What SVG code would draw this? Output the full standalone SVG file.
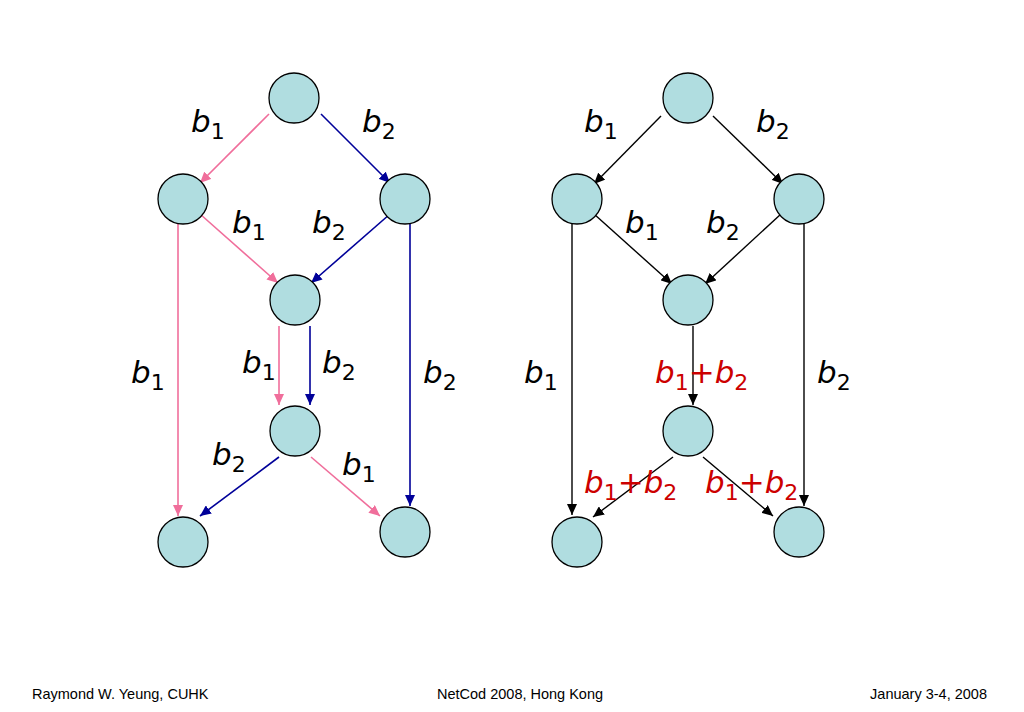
<svg xmlns="http://www.w3.org/2000/svg" width="1024" height="712" viewBox="0 0 1024 712">
<style>
.node{fill:#B0DDE0;stroke:#000;stroke-width:1.3}
.pink{stroke:#F06E9B;stroke-width:1.6;fill:none;marker-end:url(#ap)}
.blue{stroke:#000099;stroke-width:1.6;fill:none;marker-end:url(#ab)}
.blk{stroke:#000;stroke-width:1.4;fill:none;marker-end:url(#ak)}
.lbl{font-family:"DejaVu Sans",Verdana,sans-serif;font-size:31px;fill:#000}
.red{fill:#CC0000}
.i{font-style:italic}
.s{font-size:22px}
.foot{font-family:"Liberation Sans",Arial,sans-serif;font-size:14.5px;fill:#000}
</style>
<defs>
<marker id="ap" markerUnits="userSpaceOnUse" markerWidth="12" markerHeight="10" refX="11" refY="5" orient="auto"><path d="M0,0 L11,5 L0,10 z" fill="#F06E9B"/></marker>
<marker id="ab" markerUnits="userSpaceOnUse" markerWidth="12" markerHeight="10" refX="11" refY="5" orient="auto"><path d="M0,0 L11,5 L0,10 z" fill="#000099"/></marker>
<marker id="ak" markerUnits="userSpaceOnUse" markerWidth="12" markerHeight="10" refX="11" refY="5" orient="auto"><path d="M0,0 L11,5 L0,10 z" fill="#000"/></marker>
</defs>
<rect width="1024" height="712" fill="#fff"/>
<g id="connectors">
<line class="pink" x1="269" y1="114" x2="200" y2="183"/>
<line class="blue" x1="321" y1="114" x2="390" y2="183"/>
<line class="pink" x1="200" y1="214" x2="278" y2="283"/>
<line class="blue" x1="390" y1="214" x2="311" y2="283"/>
<line class="pink" x1="178" y1="224" x2="178" y2="516"/>
<line class="blue" x1="410" y1="224" x2="410" y2="506"/>
<line class="pink" x1="279" y1="326" x2="279" y2="405"/>
<line class="blue" x1="310" y1="326" x2="310" y2="405"/>
<line class="blue" x1="279" y1="457" x2="200" y2="516"/>
<line class="pink" x1="311" y1="457" x2="380" y2="516"/>
<line class="blk" x1="661" y1="116" x2="594" y2="184"/>
<line class="blk" x1="713" y1="116" x2="783" y2="184"/>
<line class="blk" x1="594" y1="214" x2="672" y2="284"/>
<line class="blk" x1="781" y1="214" x2="705" y2="284"/>
<line class="blk" x1="572" y1="224" x2="572" y2="515"/>
<line class="blk" x1="804" y1="224" x2="804" y2="506"/>
<line class="blk" x1="693" y1="326" x2="693" y2="405"/>
<line class="blk" x1="673" y1="457" x2="593" y2="517"/>
<line class="blk" x1="703" y1="457" x2="773" y2="516"/>
</g>
<g id="n1"><circle class="node" cx="294" cy="98" r="25"/></g>
<g id="n2"><circle class="node" cx="183" cy="199" r="25"/></g>
<g id="n3"><circle class="node" cx="405" cy="199" r="25"/></g>
<g id="n4"><circle class="node" cx="295" cy="300" r="25"/></g>
<g id="n5"><circle class="node" cx="295" cy="431" r="25"/></g>
<g id="n6"><circle class="node" cx="183" cy="542" r="25"/></g>
<g id="n7"><circle class="node" cx="405" cy="532" r="25"/></g>
<g id="m1"><circle class="node" cx="688" cy="98" r="25"/></g>
<g id="m2"><circle class="node" cx="577" cy="199" r="25"/></g>
<g id="m3"><circle class="node" cx="799" cy="199" r="25"/></g>
<g id="m4"><circle class="node" cx="688" cy="300" r="25"/></g>
<g id="m5"><circle class="node" cx="688" cy="431" r="25"/></g>
<g id="m6"><circle class="node" cx="577" cy="542" r="25"/></g>
<g id="m7"><circle class="node" cx="799" cy="532" r="25"/></g>
<g id="labels">
<text class="lbl" x="191" y="132"><tspan class="i">b</tspan><tspan class="s" dy="7">1</tspan></text>
<text class="lbl" x="362" y="132"><tspan class="i">b</tspan><tspan class="s" dy="7">2</tspan></text>
<text class="lbl" x="232" y="233"><tspan class="i">b</tspan><tspan class="s" dy="7">1</tspan></text>
<text class="lbl" x="312" y="233"><tspan class="i">b</tspan><tspan class="s" dy="7">2</tspan></text>
<text class="lbl" x="131" y="383"><tspan class="i">b</tspan><tspan class="s" dy="7">1</tspan></text>
<text class="lbl" x="242" y="373"><tspan class="i">b</tspan><tspan class="s" dy="7">1</tspan></text>
<text class="lbl" x="322" y="373"><tspan class="i">b</tspan><tspan class="s" dy="7">2</tspan></text>
<text class="lbl" x="423" y="383"><tspan class="i">b</tspan><tspan class="s" dy="7">2</tspan></text>
<text class="lbl" x="212" y="465"><tspan class="i">b</tspan><tspan class="s" dy="7">2</tspan></text>
<text class="lbl" x="342" y="475"><tspan class="i">b</tspan><tspan class="s" dy="7">1</tspan></text>
<text class="lbl" x="584" y="132"><tspan class="i">b</tspan><tspan class="s" dy="7">1</tspan></text>
<text class="lbl" x="756" y="132"><tspan class="i">b</tspan><tspan class="s" dy="7">2</tspan></text>
<text class="lbl" x="625" y="233"><tspan class="i">b</tspan><tspan class="s" dy="7">1</tspan></text>
<text class="lbl" x="706" y="233"><tspan class="i">b</tspan><tspan class="s" dy="7">2</tspan></text>
<text class="lbl" x="524" y="383"><tspan class="i">b</tspan><tspan class="s" dy="7">1</tspan></text>
<text class="lbl" x="817" y="383"><tspan class="i">b</tspan><tspan class="s" dy="7">2</tspan></text>
<text class="lbl red" x="655" y="383"><tspan class="i">b</tspan><tspan class="s" dy="7">1</tspan><tspan dy="-7">+</tspan><tspan class="i">b</tspan><tspan class="s" dy="7">2</tspan></text>
<text class="lbl red" x="584" y="493"><tspan class="i">b</tspan><tspan class="s" dy="7">1</tspan><tspan dy="-7">+</tspan><tspan class="i">b</tspan><tspan class="s" dy="7">2</tspan></text>
<text class="lbl red" x="705" y="493"><tspan class="i">b</tspan><tspan class="s" dy="7">1</tspan><tspan dy="-7">+</tspan><tspan class="i">b</tspan><tspan class="s" dy="7">2</tspan></text>
</g>
<g id="footer">
<text class="foot" x="32" y="699">Raymond W. Yeung, CUHK</text>
<text class="foot" x="437" y="699">NetCod 2008, Hong Kong</text>
<text class="foot" x="987" y="699" text-anchor="end">January 3-4, 2008</text>
</g>
</svg>
